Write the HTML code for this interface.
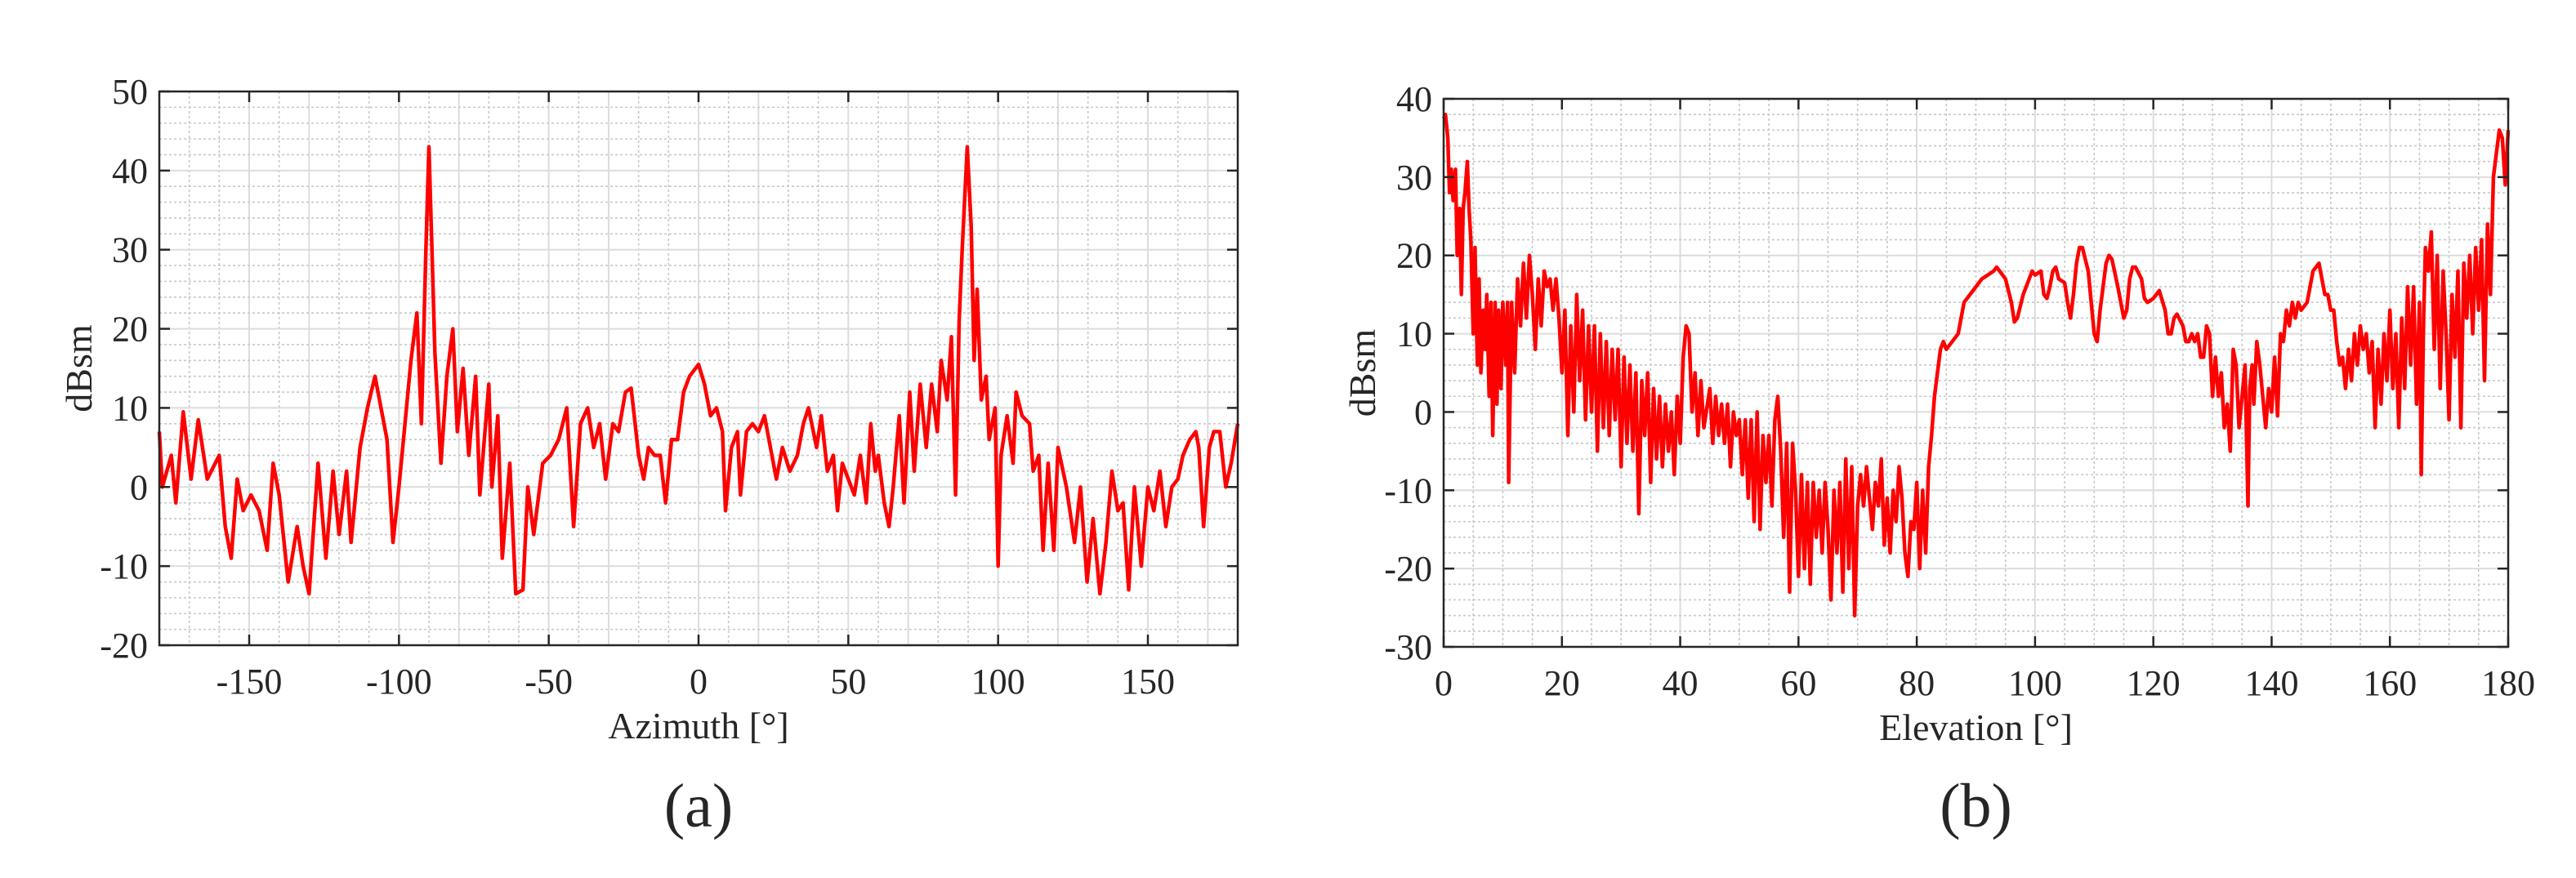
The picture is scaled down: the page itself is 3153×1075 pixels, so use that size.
<!DOCTYPE html>
<html><head><meta charset="utf-8"><style>
html,body{margin:0;padding:0;background:#fff;}
svg{display:block;}
text{font-family:"Liberation Serif",serif;fill:#262626;}
</style></head><body>
<svg id="fig" width="3153" height="1075" viewBox="0 0 3153 1075"></svg>
<script>
const azAngles=[-180,-179,-176,-174.5,-172,-169.4,-167,-164,-160,-158,-156,-154,-152,-149.4,-146.7,-144,-142,-140,-137,-134,-132,-130,-127,-124.4,-122,-120,-117.5,-116,-113,-110.5,-108,-104,-102,-100,-98,-96,-94,-92.5,-91,-90,-89,-88,-86,-84,-82,-80.5,-78.6,-76.7,-74.4,-73,-70,-69,-67,-65.5,-63,-61,-58.6,-57,-55,-52,-49.4,-46.7,-44,-41.7,-39.4,-37,-35,-33,-31,-28.6,-26.7,-24.4,-22.5,-20,-18.3,-16.7,-14.7,-12.8,-11,-9,-7,-5,-3,0,2,4,6,8,9,11,13,14,16,18,20,22,24,26,28,30.5,33,35,36.7,39.4,41,43,45,46.4,48,50,52,54,56,57.5,59,60,62,63.6,65,67,68.6,70.5,72,74,76,77.8,79.7,81,83,84.4,85.8,87,88,89.7,91,92,93,94.4,96,97,99,100,101,103,105,106,108,110.5,111.7,113.6,115,116.7,118.6,120,122.8,125.5,127.5,129.7,131.7,134,136,138,140,141.7,143.6,145.5,147.8,150,152,154,156,158,160,161.7,164,166,167,168.6,170.5,172,174,176,177.8,180];
const azValues=[7,0,4,-2,9.5,1,8.5,1,4,-5,-9,1,-3,-1,-3,-8,3,-1,-12,-5,-10,-13.5,3,-9,2,-6,2,-7,5,10,14,6,-7,0,8,16,22,8,30,43,30,17,3,14,20,7,15,4,14,-1,13,0,9,-9,3,-13.5,-13,0,-6,3,4,6,10,-5,8,10,5,8,1,8,7,12,12.5,4,1,5,4,4,-2,6,6,12,14,15.5,13,9,10,7,-3,5,7,-1,7,8,7,9,5,1,5,2,4,8,10,5,9,2,4,-3,3,1,-1,4,-2,8,2,4,-2,-5,0,9,-2,12,2,13,5,13,7,16,11,19,-1,21,30,43,33,16,25,11,14,6,10,-10,4,9,3,12,9,8,2,4,-8,3,-8,5,0,-7,0,-12,-4,-13.5,-7,2,-3,-2,-13,0,-10,0,-3,2,-5,0,1,4,6,7,5,-5,5,7,7,0,3,8];
const elAngles=[0,0.3,0.7,1,1.3,1.6,2,2.3,2.7,3,3.3,3.6,4,4.3,4.6,5,5.3,5.7,6,6.3,6.7,7,7.3,7.7,8,8.3,8.7,9,9.3,9.7,10,10.5,10.8,11,11.5,12,12.5,13,13.5,14,14.5,15,15.5,16,16.5,17,17.5,18,18.5,19,19.5,20,20.5,21,21.5,22,22.5,23,23.5,24,24.5,25,25.5,26,26.5,27,27.5,28,28.5,29,29.5,30,30.5,31,31.5,32,32.5,33,33.5,34,34.5,35,35.5,36,36.5,37,37.5,38,38.5,39,39.5,40,40.5,41,41.5,42,42.5,43,43.5,44,45,45.5,46,46.5,47,47.5,48,48.5,49,49.5,50,50.5,51,51.5,52,52.5,53,53.5,54,54.5,55,55.5,56,56.5,57,57.5,58,58.5,59,59.5,60,60.5,61,61.5,62,62.5,63,63.5,64,64.5,65,65.5,66,66.5,67,67.5,68,68.5,69,69.5,70,70.5,71,71.5,72,72.5,73,73.5,74,74.5,75,75.5,76,76.5,77,77.5,78,78.5,79,79.5,80,80.5,81,81.5,82,82.5,83,83.5,84,84.5,85,86,87,88,89,90,91,92,93,93.5,94,95,96,96.5,97,98,99,99.5,100,101,101.5,102,102.5,103,103.5,104,105,105.5,106,106.5,107,107.5,108,109,110,110.5,111,112,112.5,113,114,115,115.5,116,116.5,117,118,118.5,119,120,121,122,122.5,123,123.5,124,125,125.5,126,126.5,127,127.5,128,128.5,129,129.5,130,130.5,131,131.5,132,132.5,133,133.5,134,134.5,135,135.5,136,136.3,136.7,137,137.5,138,138.5,139,139.5,140,140.5,141,141.5,142,142.5,143,143.5,144,144.5,145,146,146.5,147,148,148.5,149,149.5,150,150.5,151,151.5,152,152.5,153,153.5,154,154.5,155,155.5,156,156.5,157,157.5,158,158.5,159,159.5,160,160.5,161,161.5,162,162.5,163,163.5,164,164.5,165,165.3,165.7,166,166.5,167,167.5,168,168.5,169,169.5,170,170.5,171,171.5,172,172.5,173,173.5,174,174.5,175,175.5,176,176.5,177,177.5,178,178.5,179,179.5,180];
const elValues=[37.5,38,35,28,31,27,31,20,26,15,26,28,32,26,22,10,21,6,17,5,13,8,15,2,14,-3,14,1,13,3,14,6,14,-9,14,5,17,11,19,12,20,15,8,17,11,18,16,17,13,17,12,5,13,-3,11,0,15,4,13,-1,11,0,11,-5,10,-2,9,-3,8,-1,8,-7,7,-4,6,-5,5,-13,4,-3,5,-9,3,-6,2,-7,1,-5,0,-8,2,-4,7,11,10,0,5,-3,4,-2,3,-4,2,-3,1,-4,1,-7,0,-3,-1,-8,-1,-11,-1,-14,0,-15,-3,-9,-3,-12,-1,2,-5,-16,-4,-23,-4,-10,-21,-8,-20,-9,-22,-9,-16,-10,-18,-9,-15,-24,-10,-18,-9,-23,-6,-20,-7,-26,-12,-8,-12,-7,-11,-15,-9,-12,-6,-17,-11,-18,-10,-14,-7,-11,-18,-21,-14,-15,-9,-20,-10,-18,-7,-3,2,5,8,9,8,9,10,14,15,16,17,17.5,18,18.5,18,17,14,11.5,12,15,17,18,17.5,18,15,14.5,16,18,18.5,17,16.5,14,12,15,19,21,21,18,10,9,13,19,20,19.5,16,12,13,17,18.5,18.5,17,14.5,14,14.5,15.5,13,10,10,12,12.5,11,9,9,10,9,10,7,7,11,10,2,7,2,5,-2,1,-5,8,6,-2,2,6,-12,3,6,1,9,6,2,-2,3,0,7,-0.5,10,9,13,11,14,12,14,13,14,16,18,19,17,15,15,13,13,9,6,7,3,8,4,10,6,11,8,10,5,9,-2,8,1,10,4,13,3,10,-2,12,3,16,6,16,1,14,-8,12,21,18,23,8,20,3,18,10,-1,15,7,18,-2,19,12,20,10,21,13,22,4,24,15,30,33,36,35,29,36];

const svg=document.getElementById('fig');
const NS='http://www.w3.org/2000/svg';
function mk(tag,attrs,parent){const e=document.createElementNS(NS,tag);for(const k in attrs)e.setAttribute(k,attrs[k]);(parent||svg).appendChild(e);return e;}

function drawPanel(p){
  const g=mk('g',{});
  
  
  const sx=v=>p.x0+(v-p.xmin)/(p.xmax-p.xmin)*(p.x1-p.x0);
  const sy=v=>p.y1-(v-p.ymin)/(p.ymax-p.ymin)*(p.y1-p.y0);
  const bg=mk('rect',{x:p.x0,y:p.y0,width:p.x1-p.x0,height:p.y1-p.y0,fill:'#fff'},g);
  
  
  for(let v=p.xmin;v<=p.xmax+1e-9;v+=p.xminor){
    const major=Math.abs(((v-p.xmin)%p.xmajor))<1e-9||Math.abs(v%p.xmajor)<1e-9;
    const l=mk('line',{x1:sx(v),x2:sx(v),y1:p.y0,y2:p.y1,stroke:major?'#dcdcdc':'#c8c8c8','stroke-width':major?2:1.6,'stroke-dasharray':major?'none':'3,3'},g);
    
    
  }
  for(let v=p.ymin;v<=p.ymax+1e-9;v+=p.yminor){
    const major=Math.abs(v%p.ymajor)<1e-9;
    const l=mk('line',{x1:p.x0,x2:p.x1,y1:sy(v),y2:sy(v),stroke:major?'#dcdcdc':'#c8c8c8','stroke-width':major?2:1.6,'stroke-dasharray':major?'none':'3,3'},g);
    
    
  }
  const pts=p.xs.map((x,i)=>sx(x).toFixed(1)+','+sy(p.ys[i]).toFixed(1)).join(' ');
  const line=mk('polyline',{points:pts,fill:'none',stroke:'#ff0000','stroke-width':4.5,'stroke-linejoin':'round'},g);
  
  
  const box=mk('rect',{x:p.x0,y:p.y0,width:p.x1-p.x0,height:p.y1-p.y0,fill:'none',stroke:'#262626','stroke-width':2.5},g);
  
  
  p.xticks.forEach(v=>{
    mk('line',{x1:sx(v),x2:sx(v),y1:p.y1,y2:p.y1-13,stroke:'#262626','stroke-width':2.5},g);
    mk('line',{x1:sx(v),x2:sx(v),y1:p.y0,y2:p.y0+13,stroke:'#262626','stroke-width':2.5},g);
    const t=mk('text',{x:sx(v),y:p.y1+59,'text-anchor':'middle','font-size':44},g);
    t.textContent=String(v);
    
    
  });
  p.yticks.forEach(v=>{
    mk('line',{x1:p.x0,x2:p.x0+13,y1:sy(v),y2:sy(v),stroke:'#262626','stroke-width':2.5},g);
    mk('line',{x1:p.x1,x2:p.x1-13,y1:sy(v),y2:sy(v),stroke:'#262626','stroke-width':2.5},g);
    const t=mk('text',{x:p.x0-14,y:sy(v)+15,'text-anchor':'end','font-size':44},g);
    t.textContent=String(v);
    
    
  });
  const xl=mk('text',{x:(p.x0+p.x1)/2,y:p.y1+114,'text-anchor':'middle','font-size':46},g);
  xl.textContent=p.xlabel;
  
  
  const yl=mk('text',{x:0,y:0,'text-anchor':'middle','font-size':46,transform:`translate(${p.ylx},${(p.y0+p.y1)/2}) rotate(-90)`},g);
  yl.textContent='dBsm';
  
  
  const cap=mk('text',{x:(p.x0+p.x1)/2,y:1012,'text-anchor':'middle','font-size':76},g);
  cap.textContent=p.caption;
  
  
}
drawPanel({name:'azimuth-chart',x0:195,x1:1515,y0:112,y1:790,xmin:-180,xmax:180,ymin:-20,ymax:50,xminor:10,xmajor:50,yminor:2,ymajor:10,
  xticks:[-150,-100,-50,0,50,100,150],yticks:[-20,-10,0,10,20,30,40,50],xs:azAngles,ys:azValues,xlabel:'Azimuth [°]',ylx:112,caption:'(a)'});
drawPanel({name:'elevation-chart',x0:1767,x1:3070,y0:121,y1:792,xmin:0,xmax:180,ymin:-30,ymax:40,xminor:5,xmajor:20,yminor:2,ymajor:10,
  xticks:[0,20,40,60,80,100,120,140,160,180],yticks:[-30,-20,-10,0,10,20,30,40],xs:elAngles,ys:elValues,xlabel:'Elevation [°]',ylx:1683,caption:'(b)'});
</script>
</body></html>
